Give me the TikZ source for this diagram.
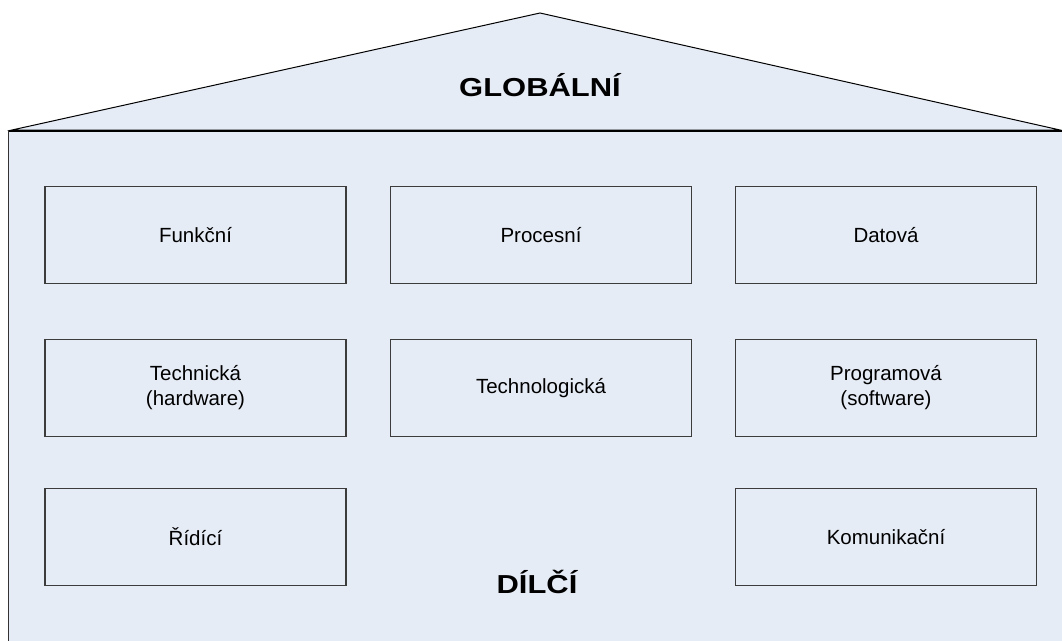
\documentclass[tikz,border=0pt]{standalone}
\usepackage{fontspec}
\usepackage{graphicx}
\setmainfont{Liberation Sans}
\definecolor{wallfill}{RGB}{230,236,246}
\definecolor{boxline}{RGB}{60,60,60}
\tikzset{
  part/.style={draw=boxline, line width=1.2pt, minimum width=301pt, minimum height=97pt,
    inner sep=0pt, align=center, font=\fontsize{20.5}{25}\selectfont},
  heading/.style={inner sep=0pt, anchor=base}
}
\newcommand{\headtext}[1]{\scalebox{1.19}[1]{\fontsize{26}{30}\selectfont\bfseries #1}}
\begin{document}
\begin{tikzpicture}[x=1pt, y=-1pt]
  \useasboundingbox (0,0) rectangle (1062,640);
  \clip (0,0) rectangle (1062,640);
  % roof
  \draw[fill=wallfill, line width=1pt] (12,130) -- (540,13) -- (1060,130) -- cycle;
  % walls
  \draw[fill=wallfill, draw=black!80, line width=1.3pt] (8.5,131) rectangle (1075,660);
  \draw[line width=2pt] (8.5,131) -- (1062,131);
  % headings
  \node[heading] (global) at (540,96) {\headtext{GLOBÁLNÍ}};
  \node[heading] (partial) at (537,593) {\headtext{DÍLČÍ}};
  % first row
  \node[part] (funkcni)  at (195.5,235) {Funkční};
  \node[part] (procesni) at (541,235)   {Procesní};
  \node[part] (datova)   at (886,235)   {Datová};
  % second row
  \node[part] (technicka)     at (195.5,388) {Technická\\(hardware)};
  \node[part] (technologicka) at (541,388)   {Technologická};
  \node[part] (programova)    at (886,388)   {Programová\\(software)};
  % third row
  \node[part] (ridici)       at (195.5,537) {Řídící};
  \node[part] (komunikacni)  at (886,537)   {Komunikační};
\end{tikzpicture}
\end{document}
